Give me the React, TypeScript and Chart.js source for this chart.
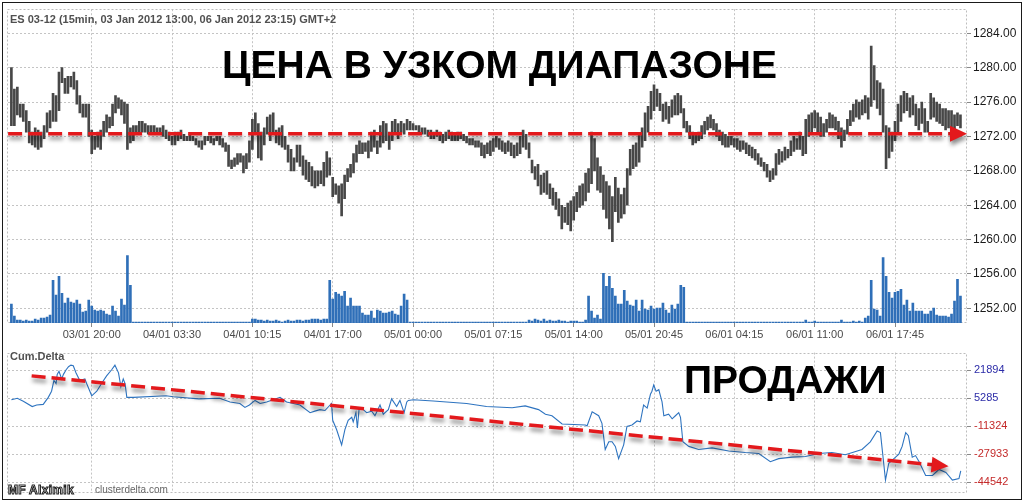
import React, { useEffect, useRef } from "react";
import { Chart, registerables } from "chart.js";
Chart.register(...registerables);

// ---------- data ----------
const xTickIdx = [27, 54, 81, 108, 135, 162, 189, 216, 243, 270, 297];
const xTickLabels = ["03/01 20:00", "04/01 03:30", "04/01 10:15", "04/01 17:00", "05/01 00:00", "05/01 07:15", "05/01 14:00", "05/01 20:45", "06/01 04:15", "06/01 11:00", "06/01 17:45"];
const priceTicks = [1252, 1256, 1260, 1264, 1268, 1272, 1276, 1280, 1284];
const deltaTicks = [21894, 5285, -11324, -27933, -44542];

const barHigh = [
  1280.0, 1277.5, 1277.75, 1275.75, 1275.75, 1275.0, 1273.75, 1272.5, 1273.0, 1272.75,
  1272.5, 1273.25, 1274.75, 1275.0, 1277.0, 1276.75, 1279.5, 1280.0, 1278.75, 1279.0,
  1279.0, 1279.5, 1278.5, 1276.75, 1275.75, 1275.75, 1275.75, 1272.75, 1272.0, 1272.5,
  1272.75, 1273.75, 1274.5, 1274.25, 1275.75, 1276.75, 1276.5, 1276.25, 1276.0, 1275.75,
  1273.0, 1273.25, 1273.25, 1273.75, 1273.75, 1273.5, 1273.25, 1273.25, 1273.25, 1273.0,
  1273.0, 1273.25, 1272.75, 1272.5, 1272.0, 1272.5, 1272.5, 1272.75, 1272.25, 1272.0,
  1272.25, 1272.0, 1271.75, 1271.5, 1271.5, 1272.0, 1272.0, 1272.0, 1271.75, 1272.0,
  1272.0, 1271.75, 1271.25, 1271.0, 1269.25, 1269.5, 1270.0, 1270.0, 1269.75, 1270.0,
  1271.5, 1274.0, 1274.75, 1273.5, 1272.5, 1273.0, 1274.25, 1274.5, 1274.75, 1272.75,
  1273.0, 1273.25, 1272.0, 1271.0, 1270.5, 1269.5, 1271.0, 1271.0, 1269.75, 1269.25,
  1269.0, 1268.5, 1268.0, 1268.0, 1268.0, 1269.0, 1270.25, 1269.5, 1267.25, 1266.5,
  1266.25, 1266.5, 1267.5, 1268.25, 1268.75, 1270.0, 1271.0, 1271.5, 1271.25, 1271.25,
  1271.5, 1272.5, 1272.75, 1271.5, 1273.25, 1273.75, 1273.5, 1272.5, 1273.75, 1274.0,
  1273.5, 1273.75, 1273.5, 1274.0, 1273.75, 1273.5, 1273.25, 1273.25, 1273.0, 1273.0,
  1272.75, 1272.75, 1272.5, 1272.75, 1272.5, 1272.25, 1272.5, 1272.75, 1272.5, 1272.25,
  1272.5, 1272.5, 1272.25, 1272.0, 1271.75, 1271.75, 1271.5, 1271.5, 1271.25, 1271.0,
  1271.25, 1271.5, 1271.75, 1272.0, 1271.75, 1271.5, 1271.25, 1271.5, 1271.25, 1271.0,
  1271.25, 1272.0, 1272.75, 1272.25, 1271.25, 1269.25, 1268.5, 1268.75, 1267.5, 1267.75,
  1268.0, 1266.5, 1266.0, 1265.5, 1264.75, 1264.0, 1263.75, 1264.25, 1264.5, 1265.0,
  1265.5, 1266.25, 1266.5, 1267.75, 1268.25, 1272.5, 1271.75, 1269.5, 1268.5, 1267.5,
  1266.75, 1266.25, 1265.0, 1267.25, 1266.0, 1265.25, 1266.0, 1268.25, 1270.5, 1271.0,
  1271.25, 1272.25, 1273.0, 1274.75, 1275.5, 1277.25, 1278.0, 1277.5, 1277.0, 1275.75,
  1276.0, 1275.5, 1276.25, 1276.75, 1277.0, 1276.75, 1275.25, 1273.75, 1273.25, 1272.5,
  1272.25, 1272.5, 1273.25, 1273.75, 1274.25, 1274.5, 1274.0, 1273.5, 1272.75, 1272.5,
  1272.25, 1272.0, 1272.0, 1271.75, 1271.75, 1271.5, 1271.5, 1271.25, 1271.0, 1270.75,
  1270.5, 1270.0, 1269.5, 1269.0, 1268.75, 1268.0, 1268.25, 1270.0, 1270.5, 1270.25,
  1270.75, 1270.5, 1271.5, 1272.0, 1271.75, 1272.5, 1272.0, 1274.0, 1274.5, 1274.75,
  1275.0, 1274.75, 1274.25, 1273.5, 1274.0, 1274.75, 1274.5, 1274.25, 1273.75, 1273.0,
  1272.75, 1274.0, 1275.0, 1275.75, 1276.25, 1276.0, 1276.25, 1276.75, 1276.5, 1282.5,
  1280.25, 1278.5, 1278.25, 1277.5, 1273.25, 1273.0, 1272.5, 1273.75, 1275.75, 1276.75,
  1277.25, 1277.0, 1276.5, 1276.75, 1275.75, 1275.25, 1276.0, 1275.25, 1273.75, 1277.0,
  1276.5, 1276.0, 1275.75, 1275.25, 1275.25, 1275.0, 1275.0, 1274.5, 1274.75, 1274.5,
];

const barLow = [
  1273.25, 1273.25, 1274.5, 1274.25, 1273.75, 1272.5, 1271.25, 1271.0, 1270.75, 1270.5,
  1270.75, 1271.75, 1272.5, 1273.0, 1273.75, 1273.75, 1275.0, 1278.25, 1277.0, 1277.0,
  1277.75, 1277.5, 1275.75, 1274.75, 1274.25, 1274.25, 1272.0, 1270.0, 1270.5, 1270.75,
  1270.5, 1272.0, 1272.5, 1273.0, 1273.25, 1274.75, 1275.25, 1274.5, 1273.5, 1270.5,
  1271.25, 1271.5, 1272.25, 1272.5, 1272.5, 1272.5, 1272.25, 1272.5, 1272.25, 1272.25,
  1272.25, 1272.0, 1271.75, 1271.5, 1271.0, 1271.0, 1271.5, 1271.75, 1271.5, 1271.5,
  1271.5, 1271.5, 1271.0, 1270.75, 1270.5, 1271.0, 1271.5, 1271.25, 1271.0, 1271.5,
  1271.0, 1270.75, 1270.25, 1268.5, 1268.25, 1268.5, 1268.75, 1269.0, 1267.75, 1268.25,
  1269.0, 1270.5, 1272.5, 1269.5, 1269.25, 1271.0, 1272.25, 1271.5, 1272.5, 1271.25,
  1271.0, 1270.75, 1270.5, 1269.0, 1268.0, 1268.0, 1269.0, 1268.5, 1267.5, 1267.0,
  1266.75, 1266.25, 1266.0, 1266.25, 1266.5, 1266.25, 1267.25, 1267.5, 1265.0, 1265.25,
  1264.25, 1262.75, 1264.75, 1266.75, 1267.25, 1267.75, 1269.0, 1270.0, 1270.0, 1270.25,
  1269.5, 1270.25, 1270.75, 1270.0, 1270.75, 1271.25, 1271.5, 1270.5, 1271.5, 1272.25,
  1271.75, 1272.5, 1272.25, 1272.75, 1272.75, 1272.75, 1272.75, 1272.5, 1272.25, 1272.25,
  1272.0, 1271.75, 1271.75, 1272.0, 1271.5, 1271.25, 1271.5, 1271.75, 1271.5, 1271.5,
  1271.5, 1271.75, 1271.5, 1271.25, 1271.0, 1271.0, 1270.75, 1270.75, 1269.75, 1269.5,
  1270.0, 1269.75, 1270.25, 1270.75, 1270.5, 1270.25, 1270.0, 1270.25, 1269.75, 1269.5,
  1269.75, 1270.0, 1270.75, 1270.5, 1269.5, 1267.75, 1267.0, 1266.25, 1265.25, 1265.5,
  1265.25, 1264.75, 1264.0, 1263.5, 1262.75, 1261.25, 1262.0, 1261.75, 1261.0, 1262.25,
  1263.25, 1263.75, 1264.0, 1264.5, 1265.5, 1266.5, 1268.0, 1265.75, 1265.5, 1263.5,
  1262.5, 1261.25, 1259.75, 1263.25, 1262.0, 1262.5, 1263.0, 1264.0, 1267.5, 1268.25,
  1268.5, 1269.0, 1270.75, 1271.5, 1272.5, 1274.0, 1275.0, 1275.5, 1275.0, 1273.75,
  1274.0, 1273.5, 1274.25, 1274.5, 1274.5, 1274.75, 1273.0, 1272.5, 1271.75, 1271.0,
  1271.25, 1271.5, 1271.75, 1272.25, 1272.75, 1273.0, 1272.75, 1272.0, 1271.5, 1271.0,
  1270.75, 1270.75, 1271.0, 1270.75, 1270.5, 1270.25, 1270.5, 1270.0, 1269.75, 1269.5,
  1269.25, 1268.75, 1268.5, 1268.0, 1267.25, 1266.75, 1267.0, 1267.5, 1268.75, 1269.0,
  1269.25, 1269.5, 1269.75, 1270.25, 1270.5, 1270.5, 1269.75, 1270.0, 1272.0, 1272.5,
  1273.0, 1272.5, 1272.0, 1272.0, 1272.5, 1273.0, 1273.0, 1272.75, 1271.75, 1270.75,
  1271.5, 1272.25, 1273.25, 1273.75, 1274.25, 1274.0, 1274.5, 1274.75, 1274.0, 1275.5,
  1276.25, 1275.25, 1274.5, 1272.5, 1268.25, 1269.5, 1270.25, 1271.5, 1272.25, 1273.75,
  1274.75, 1275.0, 1274.25, 1274.5, 1273.25, 1272.75, 1273.5, 1272.5, 1272.5, 1274.0,
  1274.25, 1273.75, 1273.5, 1273.25, 1272.75, 1273.0, 1272.75, 1272.5, 1273.25, 1273.0,
];

const volume = [
  19, 7, 3, 3, 2, 3, 2, 2, 4, 3,
  5, 5, 6, 8, 43, 28, 47, 30, 20, 25,
  21, 20, 23, 19, 11, 12, 23, 17, 13, 12,
  13, 12, 9, 8, 17, 12, 7, 24, 18, 68,
  38, 1, 1, 1, 1, 1, 1, 1, 1, 1,
  1, 1, 1, 1, 1, 1, 1, 1, 1, 1,
  1, 1, 1, 1, 1, 1, 1, 1, 1, 1,
  1, 1, 1, 1, 1, 1, 1, 1, 1, 1,
  1, 4, 4, 3, 3, 2, 3, 2, 2, 3,
  2, 1, 2, 3, 2, 2, 3, 3, 2, 3,
  3, 4, 4, 4, 3, 4, 4, 43, 24, 31,
  29, 27, 32, 17, 25, 17, 17, 17, 10, 8,
  8, 12, 5, 13, 12, 10, 10, 11, 12, 9,
  8, 17, 29, 23, 1, 1, 1, 1, 1, 1,
  1, 1, 1, 1, 1, 1, 1, 1, 1, 1,
  1, 1, 1, 1, 1, 1, 1, 1, 1, 1,
  1, 1, 1, 1, 1, 1, 1, 1, 1, 1,
  1, 1, 1, 1, 3, 2, 4, 3, 2, 4,
  2, 3, 2, 2, 3, 2, 2, 1, 2, 2,
  2, 1, 1, 3, 27, 12, 5, 8, 4, 50,
  37, 47, 35, 27, 19, 19, 33, 22, 18, 17,
  23, 12, 23, 14, 13, 17, 14, 15, 15, 20,
  13, 10, 18, 14, 19, 38, 36, 1, 1, 1,
  1, 1, 1, 1, 1, 1, 1, 1, 1, 1,
  1, 1, 1, 1, 1, 1, 1, 1, 1, 1,
  1, 1, 1, 1, 1, 1, 1, 1, 1, 1,
  1, 1, 1, 1, 1, 1, 1, 3, 1, 1,
  2, 1, 1, 1, 1, 1, 1, 1, 1, 3,
  1, 1, 1, 2, 1, 2, 1, 5, 7, 43,
  14, 13, 7, 66, 47, 31, 25, 31, 32, 34,
  18, 23, 12, 20, 12, 12, 12, 9, 9, 12,
  15, 8, 7, 7, 7, 6, 9, 22, 44, 27,
];

const deltaIdx = [
  0, 2, 4, 7, 8.5, 10.7, 12.4, 13.5, 14.3, 15, 15.4, 16, 16.9, 17.5, 18.4, 19.2, 20, 20.8, 21.7, 23,
  24.7, 25.5, 27, 28.7, 30.3, 32, 33.7, 34.8, 36, 36.8, 37.6, 38.2, 38.8, 41, 52, 54.4, 63, 70, 73.5, 76.8,
  78.5, 80, 81.9, 83.6, 85.8, 90.3, 92.5, 94.8, 97, 100.4, 102, 103.7, 105.4, 107.6, 108, 109.3, 111, 112.1, 113.2, 114.4,
  114.9, 115.8, 116.3, 116.9, 118.3, 119.4, 121.1, 122.2, 123.9, 125, 126.7, 127.8, 129.5, 130.6, 132, 132.9, 133.4, 135.1, 141.8, 153,
  159.7, 168.3, 172.7, 177.2, 179.5, 181.7, 185.1, 192.9, 193.5, 195.2, 197.4, 198.5, 199.6, 200.8, 201.9, 203, 204.1, 205.8, 206.9, 208.6,
  210.3, 211.4, 212.5, 213.7, 214.8, 215.3, 215.9, 216.7, 217.6, 218.7, 219.3, 220.9, 222.1, 223.2, 224.3, 224.9, 225.7, 227.7, 231, 235.5,
  241.1, 246.7, 251.2, 255.1, 257.9, 262.4, 266.9, 271.4, 275.8, 280.3, 285.9, 288.7, 291, 292.1, 293.2, 293.8, 294.9, 297.2, 298.3, 299.4,
  300.6, 301.5, 302.8, 303.9, 305.1, 307.3, 309.6, 311.8, 314.1, 316.3, 318.5, 319.1,
];
const deltaVal = [
  4422, 5332, 3512, 418, 1328, 1692, 5878, 9518, 15888, 14068, 19528, 21348, 16798, 19528, 22258, 24078, 24988, 24624, 20438, 15888,
  16798, 13158, 6788, 9518, 14068, 18618, 22258, 24988, 20438, 12248, 16798, 14068, 5878, 5878, 6788, 6242, 4968, 5332, 3148, 2238,
  -128, 1328, 4058, 2238, 3148, 5878, 3148, 2238, 1328, -3222, -2312, -1402, -1948, 2238, -7772, -13232, -22332, -13232, -7772, -5952,
  -8682, -3222, -12322, -492, -1402, -3222, -2312, -5042, 1328, -4132, -1402, 4968, 418, 4058, -3222, 3148, 4058, 4422, 3694, 2238,
  418, -300, 782, -1402, -4132, -5042, -9956, -10502, -11048, -2676, -5042, -9592, -25062, -20512, -20512, -23242, -30522, -22332, -11412, -10502,
  -8136, -8682, 1328, -492, 7698, 9518, 13158, 9518, 10428, 3148, -5042, -4132, -6862, -5042, -3222, -5952, -20512, -23242, -25062, -24152,
  -25972, -26882, -27428, -32342, -30522, -29612, -29248, -27428, -26882, -28156, -25062, -20512, -14142, -15052, -33252, -43262, -33252, -29612, -27792, -23242,
  -15052, -16872, -29612, -28702, -32342, -40532, -40532, -36892, -38712, -43262, -42352, -37802,
];

// annotation arrows (data units)
const priceArrow = { x0: -1.1, y0: 1272.3, x1: 321.2, y1: 1272.3 };
const deltaArrow = { x0: 6.8, y0: 18618, x1: 315, y1: -35072 };

const X_MIN = -1.14;
const X_MAX = 321.2;
const FONT = "'Liberation Sans', Arial, sans-serif";

function arrowPlugin(yId: string, a: { x0: number; y0: number; x1: number; y1: number }) {
  return {
    id: "arrow_" + yId,
    afterDatasetsDraw(chart: any) {
      const xs = chart.scales.x;
      const ys = chart.scales[yId];
      const x1 = xs.getPixelForValue(a.x0);
      const y1 = ys.getPixelForValue(a.y0);
      const x2 = xs.getPixelForValue(a.x1);
      const y2 = ys.getPixelForValue(a.y1);
      const ang = Math.atan2(y2 - y1, x2 - x1);
      const c = Math.cos(ang);
      const s = Math.sin(ang);
      const headLen = 17;
      const headW = 8;
      const bx = x2 - headLen * c;
      const by = y2 - headLen * s;
      const ctx = chart.ctx;
      ctx.save();
      ctx.shadowColor = "rgba(0,0,0,0.45)";
      ctx.shadowBlur = 4;
      ctx.shadowOffsetX = 1;
      ctx.shadowOffsetY = 4;
      ctx.strokeStyle = "#e3191c";
      ctx.lineWidth = 3.5;
      ctx.setLineDash([14, 6]);
      ctx.beginPath();
      ctx.moveTo(x1, y1);
      ctx.lineTo(bx + 2 * c, by + 2 * s);
      ctx.stroke();
      ctx.setLineDash([]);
      ctx.fillStyle = "#e3191c";
      ctx.beginPath();
      ctx.moveTo(x2, y2);
      ctx.lineTo(bx + headW * s, by - headW * c);
      ctx.lineTo(bx - headW * s, by + headW * c);
      ctx.closePath();
      ctx.fill();
      ctx.restore();
    },
  };
}

const framePlugin = {
  id: "frame",
  beforeDatasetsDraw(chart: any) {
    const { ctx, chartArea: c } = chart;
    ctx.save();
    ctx.strokeStyle = "#bdbdbd";
    ctx.lineWidth = 1;
    ctx.setLineDash([2, 2]);
    ctx.strokeRect(Math.round(c.left) - 0.5, Math.round(c.top) + 0.5, Math.round(c.right - c.left), Math.round(c.bottom - c.top) - 1);
    ctx.restore();
  },
};

const gridCommon = {
  color: "#c4c4c4",
  tickColor: "#888",
};

export default function App() {
  const topRef = useRef<HTMLCanvasElement>(null);
  const botRef = useRef<HTMLCanvasElement>(null);

  useEffect(() => {
    document.body.style.margin = "0";
    Chart.defaults.font.family = FONT;

    const priceData = barHigh.map((h, i) => ({ x: i, y: [barLow[i], h] }));
    const volData = volume.map((v, i) => ({ x: i, y: v }));
    const deltaData = deltaIdx.map((x, i) => ({ x, y: deltaVal[i] }));

    const top = new Chart(topRef.current as HTMLCanvasElement, {
      type: "bar",
      data: {
        datasets: [
          {
            data: volData as any,
            yAxisID: "yv",
            backgroundColor: "#2f6fb8",
            borderWidth: 0,
            barThickness: 2,
            grouped: false,
            order: 2,
          } as any,
          {
            data: priceData as any,
            yAxisID: "y",
            backgroundColor: "#474747",
            barThickness: 2,
            grouped: false,
            order: 1,
          } as any,
        ],
      },
      options: {
        responsive: false,
        animation: false,
        events: [],
        layout: { padding: { left: 8, top: 7, right: 0, bottom: 0 } },
        plugins: { legend: { display: false }, tooltip: { enabled: false } },
        scales: {
          x: {
            type: "linear",
            min: X_MIN,
            max: X_MAX,
            offset: false,
            grid: { ...gridCommon, offset: false, tickLength: 4 },
            border: { display: false, dash: [2, 2] },
            afterBuildTicks: (scale: any) => {
              scale.ticks = xTickIdx.map((v) => ({ value: v }));
            },
            afterFit: (scale: any) => {
              scale.height = 20;
            },
            ticks: {
              autoSkip: false,
              maxRotation: 0,
              padding: 1,
              color: "#4a4a4a",
              font: { size: 11, family: FONT },
              callback: (v: any) => {
                const k = xTickIdx.indexOf(Number(v));
                return k >= 0 ? xTickLabels[k] : "";
              },
            },
          },
          y: {
            type: "linear",
            position: "right",
            min: 1250.3,
            max: 1286.8,
            grid: { ...gridCommon, tickLength: 4 },
            border: { display: false, dash: [2, 2] },
            afterBuildTicks: (scale: any) => {
              scale.ticks = priceTicks.map((v) => ({ value: v }));
            },
            afterFit: (scale: any) => {
              scale.width = 57;
            },
            ticks: {
              padding: 2,
              color: "#1a1a1a",
              font: { size: 12, family: FONT },
              callback: (v: any) => Number(v).toFixed(2),
            },
          },
          yv: {
            type: "linear",
            position: "left",
            display: false,
            min: 0,
            max: 316,
          },
        },
      } as any,
      plugins: [framePlugin, arrowPlugin("y", priceArrow)],
    });

    const bot = new Chart(botRef.current as HTMLCanvasElement, {
      type: "line",
      data: {
        datasets: [
          {
            data: deltaData as any,
            yAxisID: "yd",
            borderColor: "#2e74c0",
            borderWidth: 1.1,
            pointRadius: 0,
            tension: 0,
            fill: false,
          },
        ],
      },
      options: {
        responsive: false,
        animation: false,
        events: [],
        layout: { padding: { left: 8, top: 0, right: 0, bottom: 7 } },
        plugins: { legend: { display: false }, tooltip: { enabled: false } },
        scales: {
          x: {
            type: "linear",
            min: X_MIN,
            max: X_MAX,
            offset: false,
            grid: { ...gridCommon, offset: false, drawTicks: false },
            border: { display: false, dash: [2, 2] },
            afterBuildTicks: (scale: any) => {
              scale.ticks = xTickIdx.map((v) => ({ value: v }));
            },
            afterFit: (scale: any) => {
              scale.height = 0;
            },
            ticks: { display: false },
          },
          yd: {
            type: "linear",
            position: "right",
            min: -50552,
            max: 32439,
            grid: { ...gridCommon, tickLength: 4 },
            border: { display: false, dash: [2, 2] },
            afterBuildTicks: (scale: any) => {
              scale.ticks = deltaTicks.map((v) => ({ value: v }));
            },
            afterFit: (scale: any) => {
              scale.width = 57;
            },
            ticks: {
              padding: 3,
              font: { size: 11, family: "'Liberation Sans Narrow', 'Liberation Sans', Arial, sans-serif" },
              color: (c: any) => (c.tick && c.tick.value >= 0 ? "#2c2ca8" : "#c42a2a"),
              callback: (v: any) => String(v),
            },
          },
        },
      } as any,
      plugins: [framePlugin, arrowPlugin("yd", deltaArrow)],
    });

    return () => {
      top.destroy();
      bot.destroy();
    };
  }, []);

  const bigText: React.CSSProperties = {
    position: "absolute",
    fontFamily: FONT,
    fontWeight: 700,
    fontSize: 39,
    lineHeight: "39px",
    color: "#000",
    whiteSpace: "nowrap",
  };

  return (
    <div style={{ position: "relative", width: 1024, height: 502, background: "#fff", overflow: "hidden" }}>
      <canvas ref={topRef} width={1024} height={343} style={{ position: "absolute", left: 0, top: 0, width: 1024, height: 343 }} />
      <canvas ref={botRef} width={1024} height={159} style={{ position: "absolute", left: 0, top: 343, width: 1024, height: 159 }} />
      <div
        style={{
          position: "absolute",
          left: 10,
          top: 13,
          fontFamily: FONT,
          fontWeight: 700,
          fontSize: 11,
          color: "#505050",
          whiteSpace: "nowrap",
        }}
      >
        ES 03-12 (15min, 03 Jan 2012 13:00, 06 Jan 2012 23:15) GMT+2
      </div>
      <div style={{ ...bigText, left: 222, top: 45 }}>ЦЕНА В УЗКОМ ДИАПАЗОНЕ</div>
      <div style={{ ...bigText, left: 684, top: 360 }}>ПРОДАЖИ</div>
      <div
        style={{
          position: "absolute",
          left: 10,
          top: 350,
          fontFamily: FONT,
          fontWeight: 700,
          fontSize: 11,
          color: "#505050",
        }}
      >
        Cum.Delta
      </div>
      <div
        style={{
          position: "absolute",
          left: 8,
          top: 483,
          fontFamily: FONT,
          fontWeight: 700,
          fontSize: 12,
          color: "#fff",
          WebkitTextStroke: "1px #222",
          letterSpacing: 0.3,
        }}
      >
        MF Alximik
      </div>
      <div
        style={{
          position: "absolute",
          left: 95,
          top: 484,
          fontFamily: FONT,
          fontSize: 10,
          color: "#666",
        }}
      >
        clusterdelta.com
      </div>
      <div
        style={{
          position: "absolute",
          left: 2,
          top: 2,
          width: 1020,
          height: 498,
          boxSizing: "border-box",
          border: "1.5px solid #1a1a1a",
          pointerEvents: "none",
        }}
      />
    </div>
  );
}
